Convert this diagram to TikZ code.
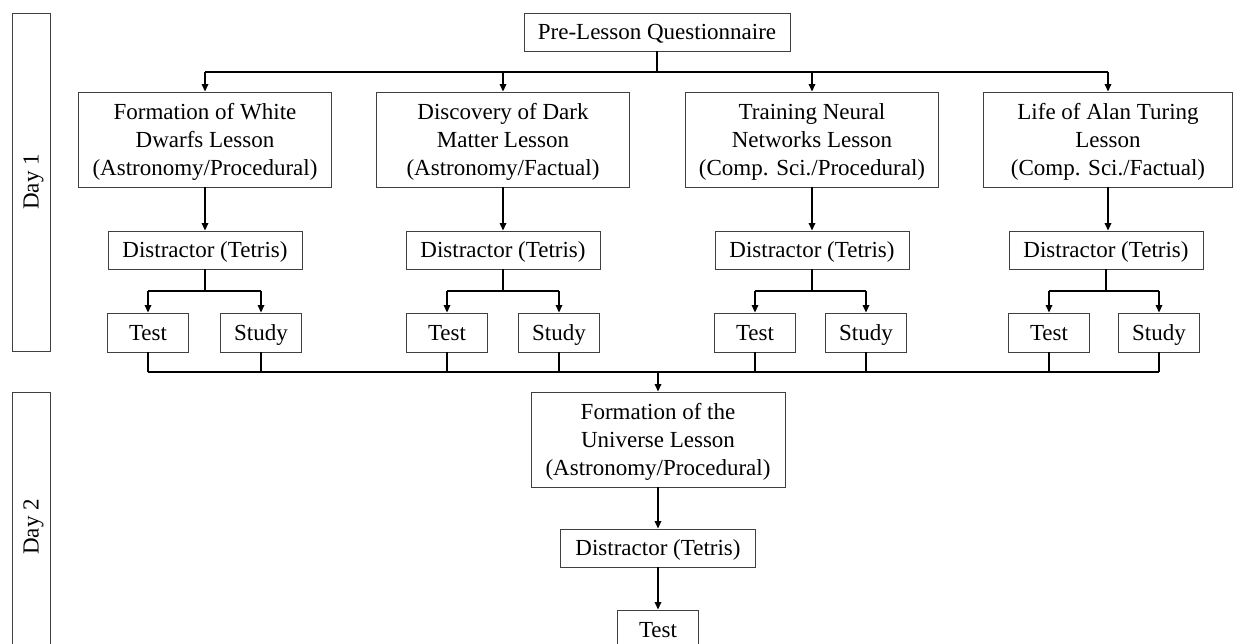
\documentclass[tikz,border=0pt]{standalone}
\usepackage{fontspec}
\setmainfont{Liberation Serif}
\usetikzlibrary{arrows.meta}
\begin{document}
\begin{tikzpicture}[x=1pt,y=-1pt,
  box/.style={draw=black!75, line width=0.9pt, fill=white, inner sep=0pt, align=center,
    font=\fontsize{23}{28}\selectfont},
  one/.style={box, text height=15.2pt, text depth=0pt},
  lesson/.style={box, text depth=0pt, minimum width=253pt, minimum height=95pt},
  distr/.style={one, minimum width=194pt, minimum height=38pt},
  small/.style={one, minimum width=81pt, minimum height=39pt},
  daybox/.style={one, rotate=90, minimum height=38pt},
  conn/.style={line width=1.6pt, black},
  arr/.style={conn, -{Triangle[length=7.5pt,width=6.5pt]}}]
\useasboundingbox (0,0) rectangle (1234,644);

% day labels
\node[daybox, minimum width=338pt] (day1) at (31,182) {Day 1};
\node[daybox, minimum width=270pt] (day2) at (31,527) {Day 2};

% top
\node[one, minimum width=266pt, minimum height=38pt] (pre) at (657,32) {Pre-Lesson Questionnaire};

% lessons
\node[lesson] (L1) at (205,139.5) {Formation of White\\Dwarfs Lesson\\(Astronomy/Procedural)};
\node[lesson] (L2) at (503,139.5) {Discovery of Dark\\Matter Lesson\\(Astronomy/Factual)};
\node[lesson] (L3) at (812,139.5) {Training Neural\\Networks Lesson\\(Comp. Sci./Procedural)};
\node[lesson, minimum width=249pt] (L4) at (1108,139.5) {Life of Alan Turing\\Lesson\\(Comp. Sci./Factual)};

% distractors
\node[distr] (D1) at (205,250) {Distractor (Tetris)};
\node[distr] (D2) at (503,250) {Distractor (Tetris)};
\node[distr] (D3) at (812,250) {Distractor (Tetris)};
\node[distr] (D4) at (1106,250) {Distractor (Tetris)};

% test / study
\node[small] (T1) at (148,332.5) {Test};
\node[small] (S1) at (261,332.5) {Study};
\node[small] (T2) at (447,332.5) {Test};
\node[small] (S2) at (559,332.5) {Study};
\node[small] (T3) at (755,332.5) {Test};
\node[small] (S3) at (866,332.5) {Study};
\node[small] (T4) at (1049,332.5) {Test};
\node[small] (S4) at (1159,332.5) {Study};

% day 2
\node[lesson, minimum width=254pt] (U) at (658,439.5) {Formation of the\\Universe Lesson\\(Astronomy/Procedural)};
\node[distr, minimum width=195pt] (UD) at (658,548) {Distractor (Tetris)};
\node[small] (UT) at (658,629.5) {Test};

% connectors: questionnaire to lessons
\draw[conn] (pre.south) -- (pre.south |- 0,72);
\draw[conn] (L1.north |- 0,72) -- (L4.north |- 0,72);
\foreach \n in {L1,L2,L3,L4} {
  \draw[arr] (\n.north |- 0,72) -- (\n.north);
}
% lessons to distractors
\draw[arr] (L1.south) -- (D1.north);
\draw[arr] (L2.south) -- (D2.north);
\draw[arr] (L3.south) -- (D3.north);
\draw[arr] (L4.south) -- (L4.south |- D4.north);
% distractors to test/study
\foreach \d/\t/\s in {D1/T1/S1,D2/T2/S2,D3/T3/S3,D4/T4/S4} {
  \draw[conn] (\d.south) -- (\d.south |- 0,291);
  \draw[conn] (\t.north |- 0,291) -- (\s.north |- 0,291);
  \draw[arr] (\t.north |- 0,291) -- (\t.north);
  \draw[arr] (\s.north |- 0,291) -- (\s.north);
}
% merge to day 2
\draw[conn] (T1.south |- 0,372) -- (S4.south |- 0,372);
\foreach \n in {T1,S1,T2,S2,T3,S3,T4,S4} {
  \draw[conn] (\n.south) -- (\n.south |- 0,372);
}
\draw[arr] (U.north |- 0,372) -- (U.north);
\draw[arr] (U.south) -- (UD.north);
\draw[arr] (UD.south) -- (UT.north);
\end{tikzpicture}
\end{document}
